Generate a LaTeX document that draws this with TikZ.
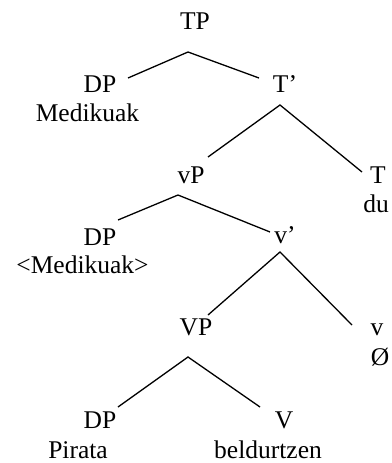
\documentclass[tikz,border=0pt]{standalone}
\usepackage{fontspec}
\setmainfont{Liberation Serif}
\usetikzlibrary{calc}
\begin{document}
\begin{tikzpicture}[x=1pt,y=-1pt,
  lbl/.style={anchor=base,inner sep=0pt,font=\fontsize{25.5}{30}\selectfont},
  edge/.style={line width=1.3pt}]
\useasboundingbox (0,0) rectangle (391,463);
% nodes
\node[lbl] (TP) at (195,29) {TP};
\node[lbl] (DPa) at (100,92) {DP};
\node[lbl] (Meda) at (87.5,121) {Medikuak};
\node[lbl] (Tbar) at (285,92) {T’};
\node[lbl] (vP) at (191,183) {vP};
\node[lbl] (T) at (378,183) {T};
\node[lbl] (du) at (376,212) {du};
\node[lbl] (DPb) at (100,245) {DP};
\node[lbl] (Medb) at (82.5,273) {<Medikuak>};
\node[lbl] (vbar) at (285,243) {v’};
\node[lbl] (VP) at (196,335) {VP};
\node[lbl] (v) at (377,335) {v};
\node[lbl] (null) at (380,365) {Ø};
\node[lbl] (DPc) at (100,428) {DP};
\node[lbl] (V) at (284,428) {V};
\node[lbl] (Pirata) at (78,458) {Pirata};
\node[lbl] (beld) at (268,458) {beldurtzen};
% connectors
\draw[edge] ($(DPa.base)+(28,-14)$) -- ($(TP.base)+(-7,23)$) -- ($(Tbar.base)+(-26,-14)$);
\draw[edge] ($(vP.base)+(17,-26)$) -- ($(Tbar.base)+(-5,13)$) -- ($(T.base)+(-16,-11)$);
\draw[edge] ($(DPb.base)+(18,-25)$) -- ($(vP.base)+(-13,12)$) -- ($(vbar.base)+(-15,-11)$);
\draw[edge] ($(VP.base)+(12,-20)$) -- ($(vbar.base)+(-5,9)$) -- ($(v.base)+(-25,-10)$);
\draw[edge] ($(DPc.base)+(18,-21)$) -- ($(VP.base)+(-8,22)$) -- ($(V.base)+(-24,-21)$);
\end{tikzpicture}
\end{document}
